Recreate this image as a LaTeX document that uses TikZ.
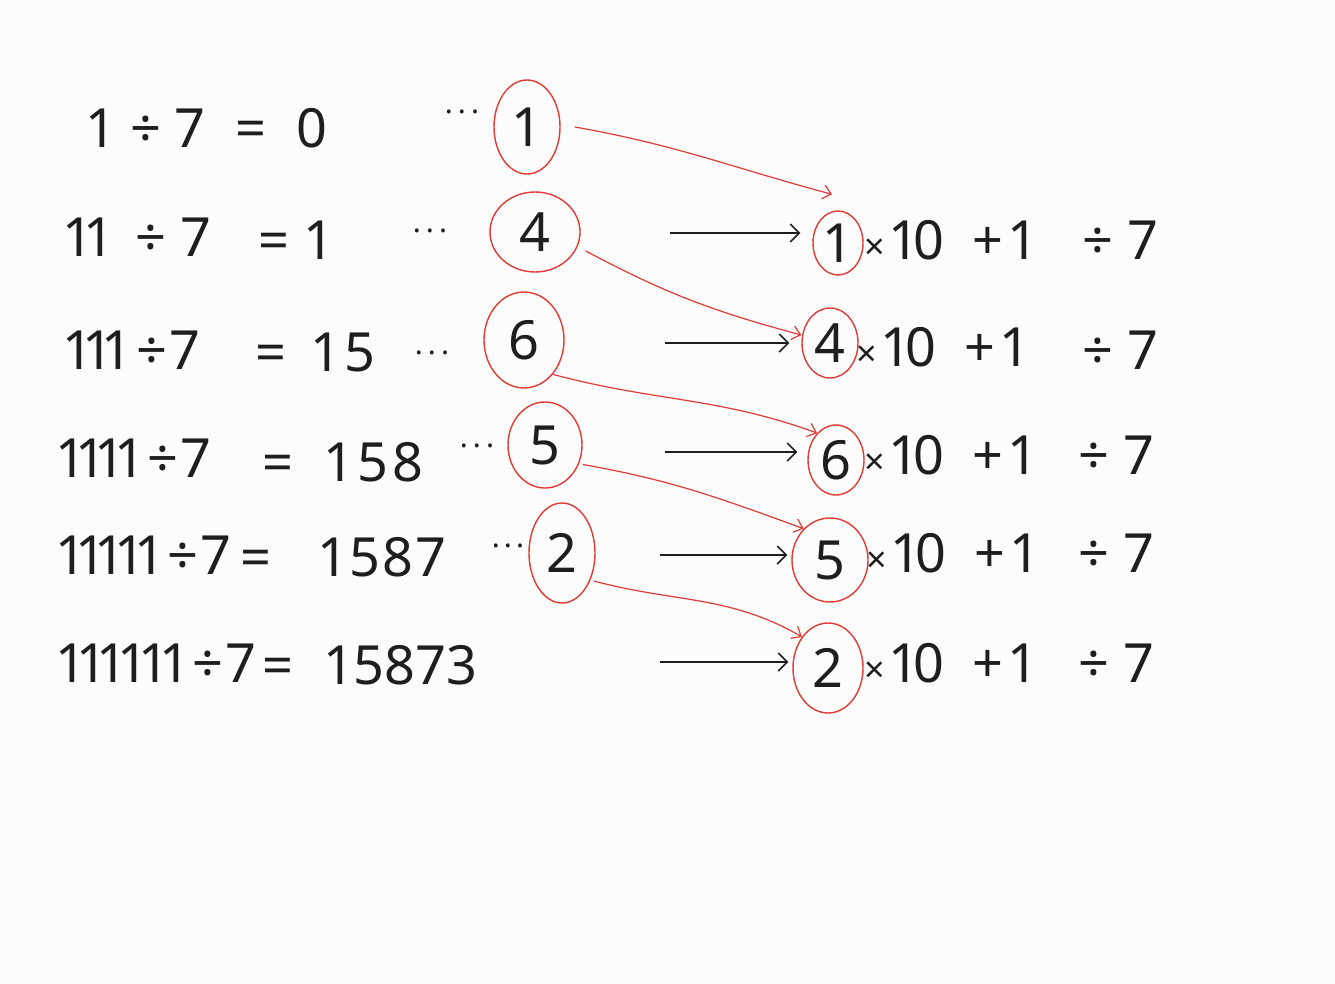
\documentclass[tikz,border=0pt]{standalone}
\usepackage{fontspec}
\setmainfont{Noto Sans}
\usetikzlibrary{shapes.geometric,arrows.meta}
\definecolor{ink}{HTML}{1E1E1E}
\definecolor{pen}{HTML}{E23B35}
\definecolor{paper}{HTML}{FCFCFC}
\newcommand\hw{\fontsize{54}{60}\selectfont}
\newcommand\tms{{\fontsize{36}{40}\selectfont ×}}
\begin{document}
\begin{tikzpicture}[x=1pt,y=-1pt,
  txt/.style={anchor=west,inner sep=0pt,text=ink,font=\hw},
  dig/.style={ellipse,draw=pen,line width=1.4pt,inner sep=0pt,text=ink,font=\hw},
  dotsnode/.style={inner sep=0pt,text=ink,font=\fontsize{30}{30}\selectfont},
  blackarrow/.style={draw=ink,line width=1.5pt,-{Straight Barb[length=9pt,width=18pt,line width=1.5pt]}},
  redarrow/.style={draw=pen,line width=1.2pt,-{Straight Barb[length=8pt,width=14pt,line width=1.2pt]}},
]
\fill[paper] (0,0) rectangle (1335,984);
\useasboundingbox (0,0) rectangle (1335,984);

% ---------- row 1 ----------
\node[txt] (l1) at (85,128) {1\hspace{14pt}÷\hspace{14pt}7};
\node[txt] (q1) at (235,128) {=\hspace{30pt}0};
\node[dotsnode] (p1) at (462,116) {·\hspace{5pt}·\hspace{5pt}·};
\node[dig,minimum width=66pt,minimum height=94pt] (c1) at (527,127) {1};

% ---------- row 2 ----------
\node[txt] (l2) at (62,237) {1\kern-10pt 1\hspace{22pt}÷\hspace{14pt}7};
\node[txt] (q2) at (258,240) {=\hspace{14pt}1};
\node[dotsnode] (p2) at (430,235) {·\hspace{5pt}·\hspace{5pt}·};
\node[dig,minimum width=90pt,minimum height=80pt] (c2) at (535,232) {4};
\node[dig,minimum width=50pt,minimum height=64pt] (d2) at (838,243) {1};
\node[txt] (e2) at (864,240) {\tms\hspace{4pt}1\kern-6pt 0\hspace{28pt}+\hspace{4pt}1};
\node[txt] (f2) at (1082,240) {÷\hspace{14pt}7};
\coordinate (s2) at (670,233);
\draw[blackarrow,shorten >=12pt] (s2) -- (s2 -| d2.west);

% ---------- row 3 ----------
\node[txt] (l3) at (62,350) {1\kern-11pt 1\kern-11pt 1\hspace{4pt}÷\hspace{2pt}7};
\node[txt] (q3) at (255,352) {=\hspace{24pt}1\hspace{4pt}5};
\node[dotsnode] (p3) at (432,357) {·\hspace{5pt}·\hspace{5pt}·};
\node[dig,minimum width=80pt,minimum height=96pt] (c3) at (524,340) {6};
\node[dig,minimum width=56pt,minimum height=70pt] (d3) at (830,343) {4};
\node[txt] (e3) at (856,347) {\tms\hspace{4pt}1\kern-6pt 0\hspace{28pt}+\hspace{4pt}1};
\node[txt] (f3) at (1082,350) {÷\hspace{14pt}7};
\coordinate (s3) at (665,343);
\draw[blackarrow,shorten >=12pt] (s3) -- (s3 -| d3.west);

% ---------- row 4 ----------
\node[txt] (l4) at (55,458) {1\kern-11pt 1\kern-11pt 1\kern-11pt 1\hspace{2pt}÷\hspace{2pt}7};
\node[txt] (q4) at (262,462) {=\hspace{30pt}1\hspace{4pt}5\hspace{4pt}8};
\node[dotsnode] (p4) at (477,450) {·\hspace{5pt}·\hspace{5pt}·};
\node[dig,minimum width=74pt,minimum height=86pt] (c4) at (545,445) {5};
\node[dig,minimum width=56pt,minimum height=70pt] (d4) at (836,460) {6};
\node[txt] (e4) at (864,455) {\tms\hspace{4pt}1\kern-6pt 0\hspace{28pt}+\hspace{4pt}1};
\node[txt] (f4) at (1078,455) {÷\hspace{14pt}7};
\coordinate (s4) at (665,452);
\draw[blackarrow,shorten >=10pt] (s4) -- (s4 -| d4.west);

% ---------- row 5 ----------
\node[txt] (l5) at (55,555) {1\kern-11pt 1\kern-11pt 1\kern-11pt 1\kern-11pt 1\hspace{2pt}÷\hspace{2pt}7};
\node[txt] (q5) at (240,557) {=\hspace{46pt}1\hspace{2pt}5\hspace{2pt}8\hspace{2pt}7};
\node[dotsnode] (p5) at (508,550) {·\hspace{4pt}·\hspace{4pt}·};
\node[dig,minimum width=66pt,minimum height=100pt] (c5) at (562,553) {2};
\node[dig,minimum width=76pt,minimum height=84pt] (d5) at (830,560) {5};
\node[txt] (e5) at (866,553) {\tms\hspace{4pt}1\kern-6pt 0\hspace{28pt}+\hspace{4pt}1};
\node[txt] (f5) at (1078,553) {÷\hspace{14pt}7};
\coordinate (s5) at (660,555);
\draw[blackarrow,shorten >=4pt] (s5) -- (s5 -| d5.west);

% ---------- row 6 ----------
\node[txt] (l6) at (55,663) {1\kern-10pt 1\kern-10pt 1\kern-10pt 1\kern-10pt 1\kern-10pt 1\hspace{2pt}÷\hspace{2pt}7};
\node[txt] (q6) at (262,665) {=\hspace{30pt}15873};
\node[dig,minimum width=70pt,minimum height=90pt] (d6) at (828,668) {2};
\node[txt] (e6) at (864,663) {\tms\hspace{4pt}1\kern-6pt 0\hspace{28pt}+\hspace{4pt}1};
\node[txt] (f6) at (1078,663) {÷\hspace{14pt}7};
\coordinate (s6) at (660,662);
\draw[blackarrow,shorten >=4pt] (s6) -- (s6 -| d6.west);

% ---------- red carry arrows ----------
\draw[redarrow] ([xshift=14pt]c1.east) to[out=-10,in=165] ([xshift=-6pt,yshift=16pt]d2.north);
\draw[redarrow] ([xshift=10pt]c2.-25) to[out=-28,in=165] ([yshift=8pt]d3.west);
\draw[redarrow] (c3.-50) to[out=-15,in=160] (d4.125);
\draw[redarrow] ([xshift=4pt]c4.-30) to[out=-10,in=160] (d5.130);
\draw[redarrow] ([xshift=4pt]c5.-45) to[out=-15,in=150] (d6.130);
\end{tikzpicture}
\end{document}
